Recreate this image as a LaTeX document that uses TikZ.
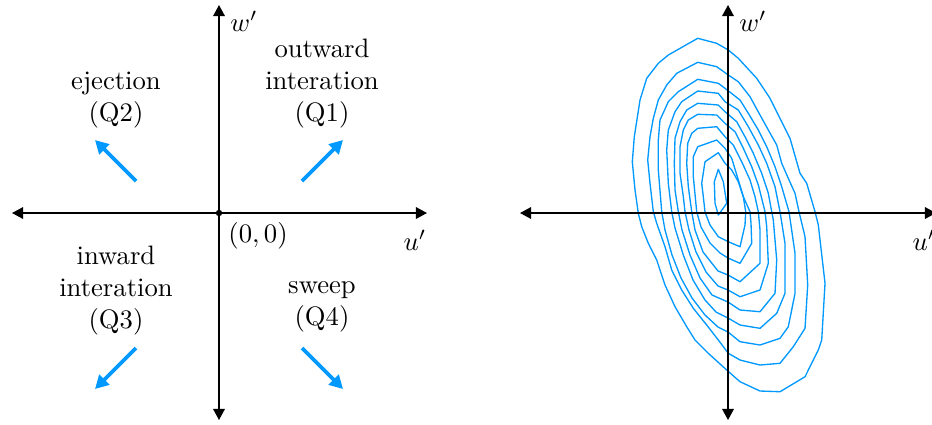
\documentclass[tikz,border=0pt]{standalone}
\usepackage{amsmath}
\usepackage{xcolor}
\usepackage{tikz}
\usetikzlibrary{arrows.meta, calc}

\definecolor{quadblue}{RGB}{0,153,255}

\begin{document}
\begin{tikzpicture}[
    x=0.375pt, y=-0.375pt,
    axis/.style={{Triangle[length=4.2pt,width=4.4pt]}-{Triangle[length=4.2pt,width=4.4pt]}, line width=0.55pt},
    event/.style={-{Triangle[length=5pt,width=5.2pt]}, line width=1.4pt, draw=quadblue},
    level/.style={draw=quadblue, line width=0.5pt, line join=round},
    quad/.style={align=center, inner sep=1pt},
    axlabel/.style={inner sep=1pt},
]
\clip (0,0) rectangle (932,424);

% Quadrant sketch
\coordinate (o1) at (219,213);
\coordinate (l1) at (12,213);
\coordinate (r1) at (427,213);
\coordinate (t1) at (219,5);
\coordinate (b1) at (219,420);
\draw[axis] (l1) -- (r1);
\draw[axis] (b1) -- (t1);
\fill (o1) circle (1.2pt);
\node[anchor=north west] (zero) at (o1) {$(0,0)$};
\node[axlabel] (w1) at (244,21) {$w'$};
\node[axlabel] (u1) at (415,240) {$u'$};

% Quadrant names
\node[quad] (q1) at (322,84) {outward\\interation\\(Q1)};
\node[quad] (q2) at (116,100) {ejection\\(Q2)};
\node[quad] (q3) at (116,291) {inward\\interation\\(Q3)};
\node[quad] (q4) at (322,307) {sweep\\(Q4)};

% Quadrant arrows
\foreach \n/\sx/\sy/\dy in {1/1/-1/-32, 2/-1/-1/-32, 3/-1/1/135, 4/1/1/135} {
    \coordinate (s\n) at ($(o1)+(\sx*83,\dy)$);
    \coordinate (e\n) at ($(s\n)+(\sx*41,\sy*41)$);
    \draw[event] (s\n) -- (e\n);
}

% Contour levels
\draw[level] (697.7,38.3) -- (716.7,43.3) -- (728.3,50) -- (738.3,58.3) -- (756.7,78.3) -- (770,98.3) -- (778.3,115) -- (790,138.3) -- (800,173.3) -- (806.7,183.3) -- (815,211.7) -- (818.3,225) -- (825,283.3) -- (821.7,340) -- (818.3,350) -- (805,376.7) -- (780,391.7) -- (760,391) -- (740,381.7) -- (726.7,370) -- (708.3,353.3) -- (695,340) -- (686.7,326.7) -- (675,306.7) -- (665,285) -- (656.7,260) -- (648.3,243.3) -- (641.7,226.7) -- (638.3,213.3) -- (635,190) -- (632.3,161.7) -- (634.3,136.7) -- (640,100) -- (646.7,78.3) -- (658.3,63.3) -- (668.3,55) -- cycle;
\draw[level] (653.3,211.7) -- (650,183.3) -- (647.7,160) -- (650,136.7) -- (653.3,118.3) -- (658.3,100) -- (666.7,85) -- (676.7,73.3) -- (697.7,62.3) -- (716.7,66.7) -- (728.3,75) -- (738.3,81.7) -- (750,96.7) -- (760,115) -- (768.3,130) -- (776.7,145) -- (781.7,163.3) -- (788.3,178.3) -- (795,193.3) -- (799,211.7) -- (805,236.7) -- (807.7,285) -- (805,328.3) -- (793.3,346.7) -- (780,363.3) -- (760,365) -- (740,360) -- (728.3,353.3) -- (718.3,340) -- (706.7,325) -- (693.3,308.3) -- (681.7,290) -- (671.7,270) -- (665,246.7) -- (656.7,223.3) -- cycle;
\draw[level] (661.7,211.7) -- (658.3,170) -- (658.3,140) -- (660,120) -- (668.3,101.7) -- (678.3,91.7) -- (697.7,79.3) -- (718.3,83.3) -- (725,88.3) -- (740,100) -- (748.3,113.3) -- (758.3,130) -- (766.7,146.7) -- (775,166.7) -- (781.7,186.7) -- (789,211.7) -- (795,253.3) -- (795,293.3) -- (788.3,326.7) -- (780,338.3) -- (760,345) -- (740,341.7) -- (728,332) -- (718,327) -- (705,315) -- (692,298) -- (681,278) -- (672,255) -- (665,230) -- cycle;
\draw[level] (671.7,211.7) -- (668.3,183.3) -- (666.7,150) -- (668.3,130) -- (675,111.7) -- (681.7,101.7) -- (697.7,91) -- (718.3,93.3) -- (725,101.7) -- (738.3,110) -- (748.3,126.7) -- (758.3,145) -- (766.7,163.3) -- (775,186.7) -- (780,211.7) -- (785,243.3) -- (785,293.3) -- (776.7,313.3) -- (760,328.3) -- (740,325) -- (728,318) -- (716,312) -- (705,300) -- (693,280) -- (683.3,255) -- (675,228) -- cycle;
\draw[level] (678.3,211.7) -- (675,190) -- (674.3,163.3) -- (675,138.3) -- (680,121.7) -- (686.7,110) -- (697.7,103.3) -- (718.3,105) -- (725,111.7) -- (736.7,121.7) -- (745,136.7) -- (753.3,153.3) -- (761.7,173.3) -- (768.3,193.3) -- (771.7,211.7) -- (773.3,220) -- (776.7,260) -- (775,293.3) -- (760,311.7) -- (740,310) -- (728,302) -- (712,295) -- (700,278) -- (690,255) -- (682,230) -- cycle;
\draw[level] (685,211.7) -- (683.3,196.7) -- (680,173.3) -- (680,146.7) -- (683.3,130) -- (688.3,120) -- (697.7,114.3) -- (716.7,115) -- (725,123.3) -- (735,131.7) -- (743.3,148.3) -- (751.7,166.7) -- (758.3,185) -- (765,211.7) -- (766.7,226.7) -- (768.3,263.3) -- (760,290) -- (740,296.7) -- (728,290) -- (718,286) -- (706,272) -- (696,252) -- (689,230) -- cycle;
\draw[level] (691.7,211.7) -- (688.3,186.7) -- (686.7,163.3) -- (687.7,143.3) -- (691.7,133.3) -- (697.7,128.3) -- (716.7,126.7) -- (725,136.7) -- (733.3,145) -- (741.7,161.7) -- (750,180) -- (755,196.7) -- (758.3,211.7) -- (760,230) -- (760,263.3) -- (740,281.7) -- (728,275) -- (718,271) -- (703,252) -- (695,230) -- cycle;
\draw[level] (696.7,211.7) -- (693.3,176.7) -- (693.3,156.7) -- (697.7,146.7) -- (716.7,140) -- (725,148.3) -- (731.7,158.3) -- (738.3,180) -- (743.3,196.7) -- (750,211.7) -- (751,223.3) -- (751.7,243.3) -- (740,263.3) -- (728,258) -- (720,253) -- (710,243) -- (701,227) -- cycle;
\draw[level] (705,212) -- (703.3,196.7) -- (701.7,183.3) -- (705,161.7) -- (718.3,152.7) -- (725,163.3) -- (731.7,170) -- (738.3,181.7) -- (743.3,196.7) -- (745.7,211.7) -- (745,225) -- (740,246.7) -- (728.3,241.7) -- (718.3,236.7) -- (710,225) -- cycle;
\draw[level] (718.3,169.3) -- (714.3,181.7) -- (715,203.3) -- (718.3,215) -- (726.7,203.3) -- (723.3,181.7) -- cycle;

% Data axes
\coordinate (o2) at (728,213);
\coordinate (l2) at (520,213);
\coordinate (r2) at (936,213);
\coordinate (t2) at (728,5);
\coordinate (b2) at (728,420);
\draw[axis] (l2) -- (r2);
\draw[axis] (b2) -- (t2);
\node[axlabel] (w2) at (753,21) {$w'$};
\node[axlabel] (u2) at (924,240) {$u'$};

\end{tikzpicture}
\end{document}
